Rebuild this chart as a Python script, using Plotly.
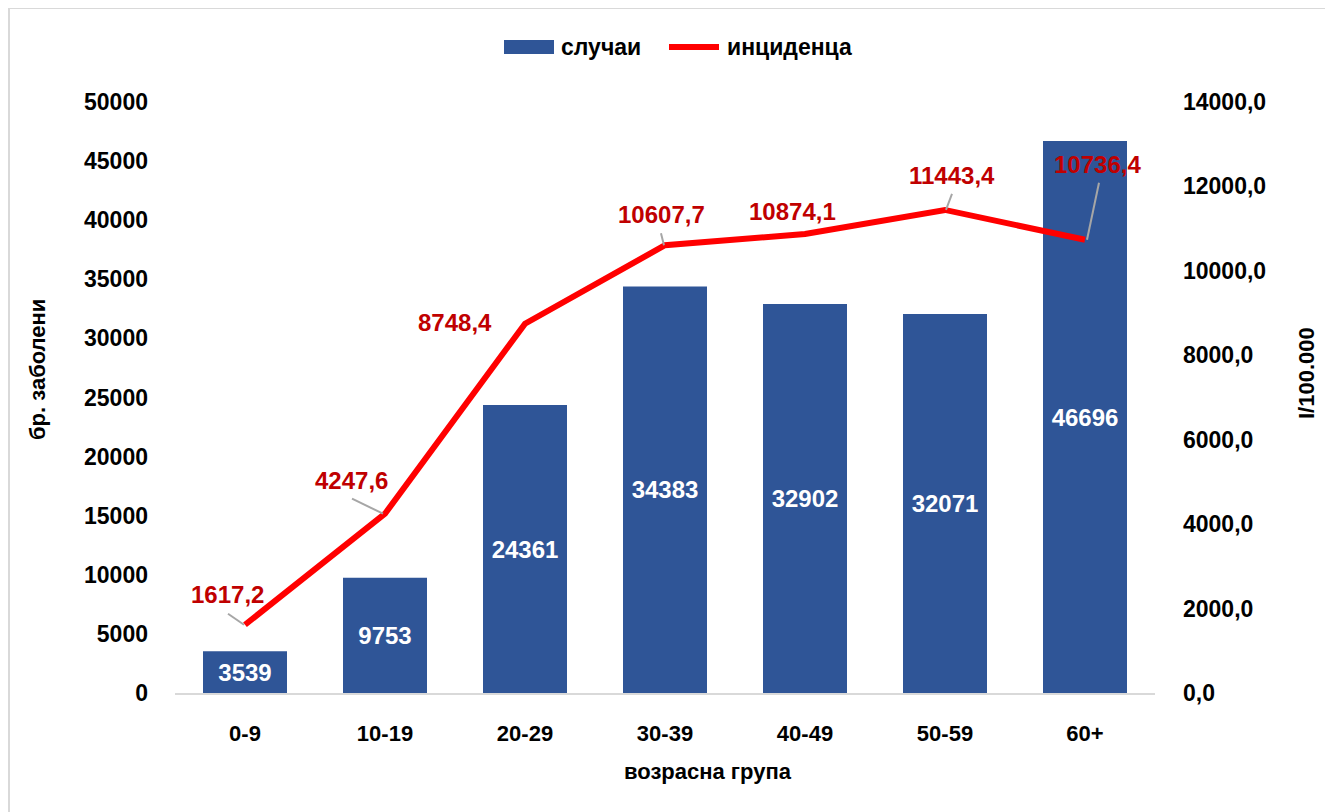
import plotly.graph_objects as go

# ---- data ----
age_groups = ["0-9", "10-19", "20-29", "30-39", "40-49", "50-59", "60+"]
cases = [3539, 9753, 24361, 34383, 32902, 32071, 46696]
incidence = [1617.2, 4247.6, 8748.4, 10607.7, 10874.1, 11443.4, 10736.4]

y_title = "бр. заболени"
y2_title = "I/100.000"
x_title = "возрасна група"
legend_cases = "случаи"
legend_inc = "инциденца"

# ---- style ----
FONT = "Liberation Sans, Arial, sans-serif"
BLUE = "#2F5597"
RED = "#FF0000"
LABEL_RED = "#C00000"
GRAY = "#A6A6A6"

OFF = 8  # page body margin
W, H = 1333, 812
# plot area in screen pixels
L, R, T, B = 175, 1155, 102, 693
def px(x):
    return (x - L) / (R - L)
def py(y):
    return (B - y) / (B - T)

# label offsets (pixels, relative to the data point) and leader lines
label_shift = [(-18, 30), (-34, 33), (-70, 1), (-4, 31), (-13, 22), (7, 34), (12, 75)]
leaders = [(-17, 11, -1, 0), (-33, 15, -2, 0), None, (-4, 12, -1, 0), None,
           (7, 16, 1, 0), (14, 57, 2, 0)]

fig = go.Figure()

fig.add_trace(go.Bar(
    x=age_groups, y=cases, name=legend_cases,
    marker=dict(color=BLUE, line=dict(width=0)),
    width=0.6,
    text=[str(v) for v in cases],
    textposition="inside", insidetextanchor="middle",
    constraintext="none",
    textfont=dict(family=FONT, size=24, color="white", weight="bold"),
    showlegend=False,
))

fig.add_trace(go.Scatter(
    x=age_groups, y=incidence, name=legend_inc, yaxis="y2",
    mode="lines", line=dict(color=RED, width=6),
    showlegend=False,
))

annotations = []
shapes = []
for i, (cat, v) in enumerate(zip(age_groups, incidence)):
    dx, dy = label_shift[i]
    annotations.append(dict(
        x=cat, y=v, xref="x", yref="y2",
        text=f"{v:.1f}".replace(".", ","),
        showarrow=False, xshift=dx, yshift=dy,
        xanchor="center", yanchor="middle",
        font=dict(family=FONT, size=24, color=LABEL_RED, weight="bold"),
    ))
    if leaders[i]:
        x0, y0, x1, y1 = leaders[i]
        shapes.append(dict(
            type="line", xref="x", yref="y2",
            xsizemode="pixel", ysizemode="pixel",
            xanchor=cat, yanchor=v,
            x0=x0, y0=y0, x1=x1, y1=y1,
            line=dict(color=GRAY, width=2),
            layer="above",
        ))

# axis titles
title_font = dict(family=FONT, size=22, color="#000", weight="bold")
annotations += [
    dict(x=px(37), y=py(370), xref="paper", yref="paper", text=y_title,
         textangle=-90, showarrow=False, xanchor="center", yanchor="middle",
         font=title_font),
    dict(x=px(1306), y=py(373), xref="paper", yref="paper", text=y2_title,
         textangle=-90, showarrow=False, xanchor="center", yanchor="middle",
         font=title_font),
    dict(x=px(708), y=py(771), xref="paper", yref="paper", text=x_title,
         showarrow=False, xanchor="center", yanchor="middle",
         font=title_font),
]

# custom legend
legend_font = dict(family=FONT, size=23, color="#000", weight="bold")
annotations += [
    dict(x=px(559), y=py(47), xref="paper", yref="paper", text=legend_cases,
         xanchor="left", yanchor="middle", showarrow=False, font=legend_font),
    dict(x=px(725), y=py(47), xref="paper", yref="paper", text=legend_inc,
         xanchor="left", yanchor="middle", showarrow=False, font=legend_font),
]
shapes += [
    dict(type="rect", xref="paper", yref="paper",
         x0=px(504), x1=px(554), y0=py(54), y1=py(40),
         fillcolor=BLUE, line=dict(width=0)),
    dict(type="line", xref="paper", yref="paper",
         x0=px(669), x1=px(719), y0=py(47), y1=py(47),
         line=dict(color=RED, width=6)),
    # outer chart frame
    dict(type="rect", xref="paper", yref="paper",
         x0=px(9), x1=px(1360), y0=py(850), y1=py(8),
         line=dict(color="#D9D9D9", width=2), layer="below"),
]

fig.update_layout(
    width=W, height=H,
    margin=dict(l=L - OFF, r=W - (R - OFF), t=T - OFF, b=H - (B - OFF)),
    paper_bgcolor="white", plot_bgcolor="white",
    separators=", ",
    font=dict(family=FONT, color="#000"),
    xaxis=dict(
        showgrid=False, zeroline=False,
        showline=True, linecolor="#D9D9D9", linewidth=2,
        ticks="", ticklabelstandoff=20,
        tickfont=dict(family=FONT, size=22, color="#000", weight="bold"),
    ),
    yaxis=dict(
        range=[0, 50000], dtick=5000, tickformat="d",
        showgrid=False, zeroline=False, showline=False,
        ticks="", ticklabelstandoff=26,
        tickfont=dict(family=FONT, size=23, color="#000", weight="bold"),
    ),
    yaxis2=dict(
        range=[0, 14000], dtick=2000, tickformat=".1f",
        overlaying="y", side="right",
        showgrid=False, zeroline=False, showline=False,
        ticks="", ticklabelstandoff=27,
        tickfont=dict(family=FONT, size=23, color="#000", weight="bold"),
    ),
    annotations=annotations,
    shapes=shapes,
    showlegend=False,
)

fig.write_html("out.html")
